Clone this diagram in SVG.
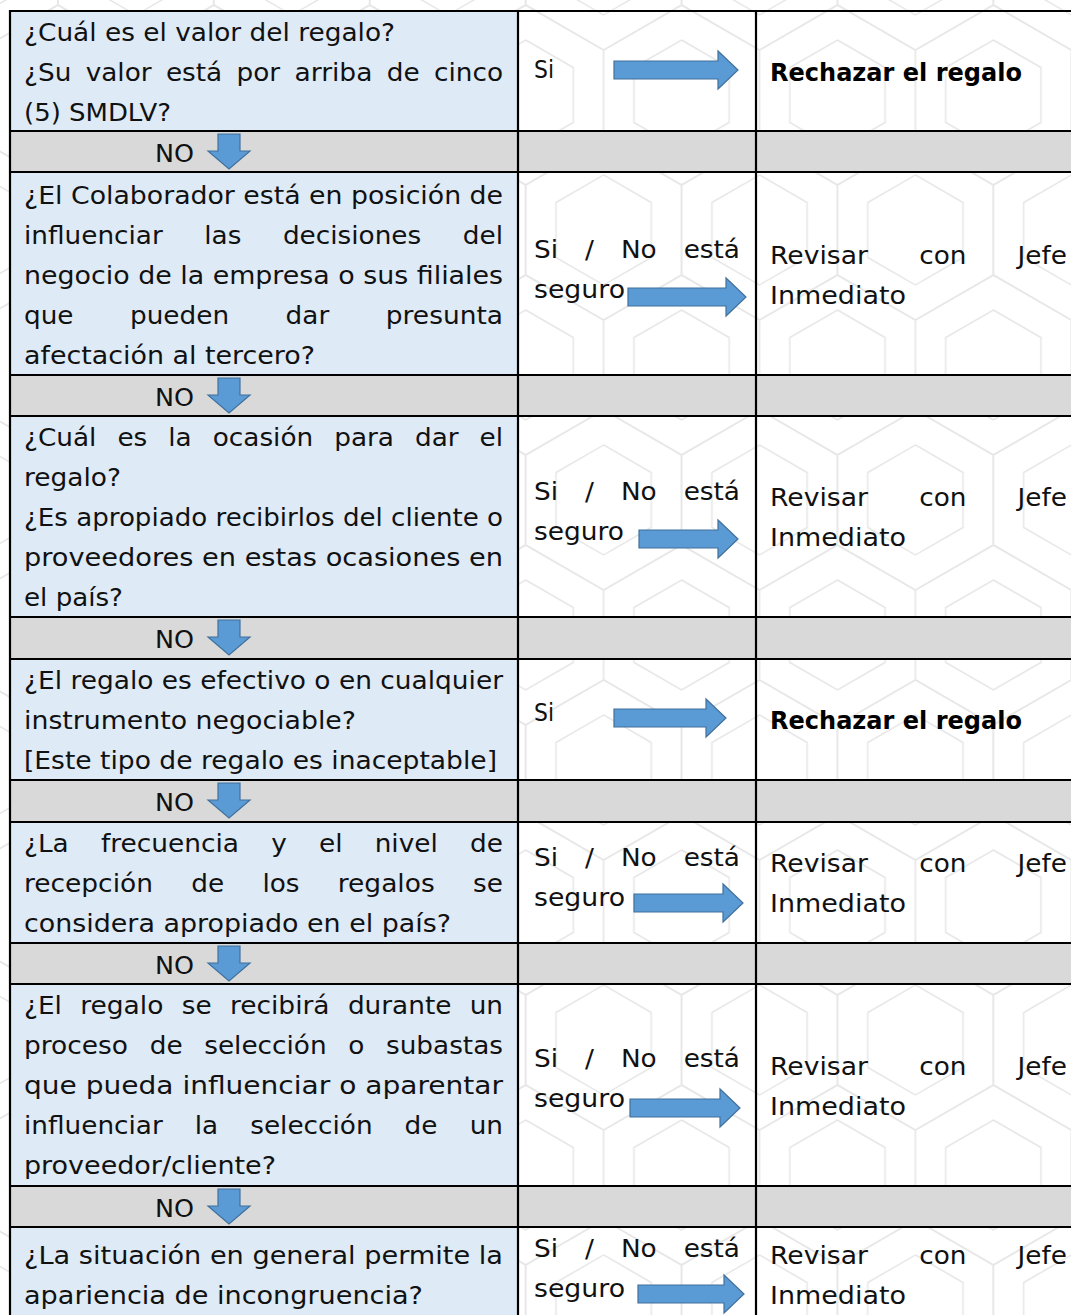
<svg xmlns="http://www.w3.org/2000/svg" width="1071" height="1315" viewBox="0 0 1071 1315">
<style>
.t{font-family:"DejaVu Sans","Open Sans",sans-serif;font-size:24px;fill:#111}
.b{font-family:"DejaVu Sans","Open Sans",sans-serif;font-size:24px;font-weight:bold;fill:#000}
.q{fill:#deeaf6}
.g{fill:#d9d9d9}
.ln{stroke:#000;stroke-width:2.2;fill:none}
.ar{fill:#5b9bd5;stroke:#41719c;stroke-width:1.2}
</style>
<defs>
<pattern id="hex" patternUnits="userSpaceOnUse" width="155.9" height="270" x="-20" y="-40">
<g fill="none" stroke="#e6e6e6" stroke-width="1.5">
<path d="M0,-90 L77.9,-45 L77.9,45 L0,90 L-77.9,45 L-77.9,-45 Z M0,-55 L47.6,-27.5 L47.6,27.5 L0,55 L-47.6,27.5 L-47.6,-27.5 Z"/>
<path transform="translate(155.9,0)" d="M0,-90 L77.9,-45 L77.9,45 L0,90 L-77.9,45 L-77.9,-45 Z M0,-55 L47.6,-27.5 L47.6,27.5 L0,55 L-47.6,27.5 L-47.6,-27.5 Z"/>
<path transform="translate(0,270)" d="M0,-90 L77.9,-45 L77.9,45 L0,90 L-77.9,45 L-77.9,-45 Z M0,-55 L47.6,-27.5 L47.6,27.5 L0,55 L-47.6,27.5 L-47.6,-27.5 Z"/>
<path transform="translate(155.9,270)" d="M0,-90 L77.9,-45 L77.9,45 L0,90 L-77.9,45 L-77.9,-45 Z M0,-55 L47.6,-27.5 L47.6,27.5 L0,55 L-47.6,27.5 L-47.6,-27.5 Z"/>
<path transform="translate(77.95,135)" d="M0,-90 L77.9,-45 L77.9,45 L0,90 L-77.9,45 L-77.9,-45 Z M0,-55 L47.6,-27.5 L47.6,27.5 L0,55 L-47.6,27.5 L-47.6,-27.5 Z"/>
</g>
</pattern>
</defs>
<rect x="0" y="0" width="1071" height="1315" fill="#fff"/>
<rect x="0" y="0" width="1071" height="1315" fill="url(#hex)"/>

<g id="fills">
<rect class="q" x="10" y="11" width="508" height="120"/>
<rect class="g" x="10" y="131" width="1061" height="41"/>
<rect class="q" x="10" y="172" width="508" height="203"/>
<rect class="g" x="10" y="375" width="1061" height="41"/>
<rect class="q" x="10" y="416" width="508" height="201"/>
<rect class="g" x="10" y="617" width="1061" height="42"/>
<rect class="q" x="10" y="659" width="508" height="121"/>
<rect class="g" x="10" y="780" width="1061" height="42"/>
<rect class="q" x="10" y="822" width="508" height="121"/>
<rect class="g" x="10" y="943" width="1061" height="41"/>
<rect class="q" x="10" y="984" width="508" height="202"/>
<rect class="g" x="10" y="1186" width="1061" height="41"/>
<rect class="q" x="10" y="1227" width="508" height="90"/>
</g>

<g id="grid" class="ln">
<path d="M10,11 H1071 M10,131 H1071 M10,172 H1071 M10,375 H1071 M10,416 H1071 M10,617 H1071 M10,659 H1071 M10,780 H1071 M10,822 H1071 M10,943 H1071 M10,984 H1071 M10,1186 H1071 M10,1227 H1071"/>
<path d="M10,10 V1315 M518,10 V1315 M756,10 V1315"/>
</g>

<g id="q1">
<text class="t" x="24" y="41" textLength="371" lengthAdjust="spacingAndGlyphs">¿Cuál es el valor del regalo?</text>
<text class="t" x="24" y="81" textLength="47.3" lengthAdjust="spacingAndGlyphs">¿Su</text>
<text class="t" x="85.7" y="81" textLength="65.9" lengthAdjust="spacingAndGlyphs">valor</text>
<text class="t" x="165.9" y="81" textLength="56.3" lengthAdjust="spacingAndGlyphs">está</text>
<text class="t" x="236.6" y="81" textLength="43.6" lengthAdjust="spacingAndGlyphs">por</text>
<text class="t" x="294.5" y="81" textLength="77.9" lengthAdjust="spacingAndGlyphs">arriba</text>
<text class="t" x="386.8" y="81" textLength="32.9" lengthAdjust="spacingAndGlyphs">de</text>
<text class="t" x="434" y="81" textLength="69" lengthAdjust="spacingAndGlyphs">cinco</text>
<text class="t" x="24" y="121" textLength="147" lengthAdjust="spacingAndGlyphs">(5) SMDLV?</text>
</g>
<g id="a1"><text class="t" x="534" y="78" textLength="20" lengthAdjust="spacingAndGlyphs">Si</text></g>
<g id="o1"><text class="b" x="770" y="81" textLength="252" lengthAdjust="spacingAndGlyphs">Rechazar el regalo</text></g>
<g id="no1"><text class="t" x="155" y="162" textLength="39" lengthAdjust="spacingAndGlyphs">NO</text></g>

<g id="q2">
<text class="t" x="24" y="204" textLength="479" lengthAdjust="spacingAndGlyphs">¿El Colaborador está en posición de</text>
<text class="t" x="24" y="244" textLength="138.8" lengthAdjust="spacingAndGlyphs">influenciar</text>
<text class="t" x="204.3" y="244" textLength="37.1" lengthAdjust="spacingAndGlyphs">las</text>
<text class="t" x="282.9" y="244" textLength="138.3" lengthAdjust="spacingAndGlyphs">decisiones</text>
<text class="t" x="462.8" y="244" textLength="40.2" lengthAdjust="spacingAndGlyphs">del</text>
<text class="t" x="24" y="284" textLength="479" lengthAdjust="spacingAndGlyphs">negocio de la empresa o sus filiales</text>
<text class="t" x="24" y="324" textLength="49.5" lengthAdjust="spacingAndGlyphs">que</text>
<text class="t" x="130" y="324" textLength="99.1" lengthAdjust="spacingAndGlyphs">pueden</text>
<text class="t" x="285.6" y="324" textLength="43.6" lengthAdjust="spacingAndGlyphs">dar</text>
<text class="t" x="385.8" y="324" textLength="117.2" lengthAdjust="spacingAndGlyphs">presunta</text>
<text class="t" x="24" y="364" textLength="291" lengthAdjust="spacingAndGlyphs">afectación al tercero?</text>
</g>
<g id="a2">
<text class="t" x="534" y="258" textLength="24" lengthAdjust="spacingAndGlyphs">Si</text>
<text class="t" x="585" y="258" textLength="8.9" lengthAdjust="spacingAndGlyphs">/</text>
<text class="t" x="620.9" y="258" textLength="35.8" lengthAdjust="spacingAndGlyphs">No</text>
<text class="t" x="683.7" y="258" textLength="56.3" lengthAdjust="spacingAndGlyphs">está</text>
<text class="t" x="534" y="298" textLength="91" lengthAdjust="spacingAndGlyphs">seguro</text>
</g>
<g id="o2">
<text class="t" x="770" y="264" textLength="98" lengthAdjust="spacingAndGlyphs">Revisar</text>
<text class="t" x="919.2" y="264" textLength="47.2" lengthAdjust="spacingAndGlyphs">con</text>
<text class="t" x="1017.6" y="264" textLength="49.4" lengthAdjust="spacingAndGlyphs">Jefe</text>
<text class="t" x="770" y="304" textLength="136" lengthAdjust="spacingAndGlyphs">Inmediato</text>
</g>
<g id="no2"><text class="t" x="155" y="406" textLength="39" lengthAdjust="spacingAndGlyphs">NO</text></g>

<g id="q3">
<text class="t" x="24" y="446" textLength="72.4" lengthAdjust="spacingAndGlyphs">¿Cuál</text>
<text class="t" x="117.4" y="446" textLength="29.9" lengthAdjust="spacingAndGlyphs">es</text>
<text class="t" x="168.3" y="446" textLength="23.4" lengthAdjust="spacingAndGlyphs">la</text>
<text class="t" x="212.7" y="446" textLength="100.5" lengthAdjust="spacingAndGlyphs">ocasión</text>
<text class="t" x="334.2" y="446" textLength="59.8" lengthAdjust="spacingAndGlyphs">para</text>
<text class="t" x="415" y="446" textLength="43.6" lengthAdjust="spacingAndGlyphs">dar</text>
<text class="t" x="479.5" y="446" textLength="23.5" lengthAdjust="spacingAndGlyphs">el</text>
<text class="t" x="24" y="486" textLength="97" lengthAdjust="spacingAndGlyphs">regalo?</text>
<text class="t" x="24" y="526" textLength="479" lengthAdjust="spacingAndGlyphs">¿Es apropiado recibirlos del cliente o</text>
<text class="t" x="24" y="566" textLength="479" lengthAdjust="spacingAndGlyphs">proveedores en estas ocasiones en</text>
<text class="t" x="24" y="606" textLength="99" lengthAdjust="spacingAndGlyphs">el país?</text>
</g>
<g id="a3">
<text class="t" x="534" y="500" textLength="24" lengthAdjust="spacingAndGlyphs">Si</text>
<text class="t" x="585" y="500" textLength="8.9" lengthAdjust="spacingAndGlyphs">/</text>
<text class="t" x="620.9" y="500" textLength="35.8" lengthAdjust="spacingAndGlyphs">No</text>
<text class="t" x="683.7" y="500" textLength="56.3" lengthAdjust="spacingAndGlyphs">está</text>
<text class="t" x="534" y="540" textLength="90" lengthAdjust="spacingAndGlyphs">seguro</text>
</g>
<g id="o3">
<text class="t" x="770" y="506" textLength="98" lengthAdjust="spacingAndGlyphs">Revisar</text>
<text class="t" x="919.2" y="506" textLength="47.2" lengthAdjust="spacingAndGlyphs">con</text>
<text class="t" x="1017.6" y="506" textLength="49.4" lengthAdjust="spacingAndGlyphs">Jefe</text>
<text class="t" x="770" y="546" textLength="136" lengthAdjust="spacingAndGlyphs">Inmediato</text>
</g>
<g id="no3"><text class="t" x="155" y="648" textLength="39" lengthAdjust="spacingAndGlyphs">NO</text></g>

<g id="q4">
<text class="t" x="24" y="689" textLength="479" lengthAdjust="spacingAndGlyphs">¿El regalo es efectivo o en cualquier</text>
<text class="t" x="24" y="729" textLength="332" lengthAdjust="spacingAndGlyphs">instrumento negociable?</text>
<text class="t" x="24" y="769" textLength="473" lengthAdjust="spacingAndGlyphs">[Este tipo de regalo es inaceptable]</text>
</g>
<g id="a4"><text class="t" x="534" y="721" textLength="20" lengthAdjust="spacingAndGlyphs">Si</text></g>
<g id="o4"><text class="b" x="770" y="729" textLength="252" lengthAdjust="spacingAndGlyphs">Rechazar el regalo</text></g>
<g id="no4"><text class="t" x="155" y="811" textLength="39" lengthAdjust="spacingAndGlyphs">NO</text></g>

<g id="q5">
<text class="t" x="24" y="852" textLength="44.7" lengthAdjust="spacingAndGlyphs">¿La</text>
<text class="t" x="100.9" y="852" textLength="138.1" lengthAdjust="spacingAndGlyphs">frecuencia</text>
<text class="t" x="271.2" y="852" textLength="15.6" lengthAdjust="spacingAndGlyphs">y</text>
<text class="t" x="319" y="852" textLength="23.5" lengthAdjust="spacingAndGlyphs">el</text>
<text class="t" x="374.7" y="852" textLength="63" lengthAdjust="spacingAndGlyphs">nivel</text>
<text class="t" x="470.1" y="852" textLength="32.9" lengthAdjust="spacingAndGlyphs">de</text>
<text class="t" x="24" y="892" textLength="128.9" lengthAdjust="spacingAndGlyphs">recepción</text>
<text class="t" x="191.2" y="892" textLength="32.9" lengthAdjust="spacingAndGlyphs">de</text>
<text class="t" x="262.4" y="892" textLength="37.1" lengthAdjust="spacingAndGlyphs">los</text>
<text class="t" x="337.8" y="892" textLength="96.9" lengthAdjust="spacingAndGlyphs">regalos</text>
<text class="t" x="473.1" y="892" textLength="29.9" lengthAdjust="spacingAndGlyphs">se</text>
<text class="t" x="24" y="932" textLength="427" lengthAdjust="spacingAndGlyphs">considera apropiado en el país?</text>
</g>
<g id="a5">
<text class="t" x="534" y="866" textLength="24" lengthAdjust="spacingAndGlyphs">Si</text>
<text class="t" x="585" y="866" textLength="8.9" lengthAdjust="spacingAndGlyphs">/</text>
<text class="t" x="620.9" y="866" textLength="35.8" lengthAdjust="spacingAndGlyphs">No</text>
<text class="t" x="683.7" y="866" textLength="56.3" lengthAdjust="spacingAndGlyphs">está</text>
<text class="t" x="534" y="906" textLength="91" lengthAdjust="spacingAndGlyphs">seguro</text>
</g>
<g id="o5">
<text class="t" x="770" y="872" textLength="98" lengthAdjust="spacingAndGlyphs">Revisar</text>
<text class="t" x="919.2" y="872" textLength="47.2" lengthAdjust="spacingAndGlyphs">con</text>
<text class="t" x="1017.6" y="872" textLength="49.4" lengthAdjust="spacingAndGlyphs">Jefe</text>
<text class="t" x="770" y="912" textLength="136" lengthAdjust="spacingAndGlyphs">Inmediato</text>
</g>
<g id="no5"><text class="t" x="155" y="974" textLength="39" lengthAdjust="spacingAndGlyphs">NO</text></g>

<g id="q6">
<text class="t" x="24" y="1014" textLength="37.9" lengthAdjust="spacingAndGlyphs">¿El</text>
<text class="t" x="80.2" y="1014" textLength="83.2" lengthAdjust="spacingAndGlyphs">regalo</text>
<text class="t" x="181.7" y="1014" textLength="29.9" lengthAdjust="spacingAndGlyphs">se</text>
<text class="t" x="229.9" y="1014" textLength="99.7" lengthAdjust="spacingAndGlyphs">recibirá</text>
<text class="t" x="347.9" y="1014" textLength="103.5" lengthAdjust="spacingAndGlyphs">durante</text>
<text class="t" x="469.7" y="1014" textLength="33.3" lengthAdjust="spacingAndGlyphs">un</text>
<text class="t" x="24" y="1054" textLength="104" lengthAdjust="spacingAndGlyphs">proceso</text>
<text class="t" x="149.7" y="1054" textLength="32.9" lengthAdjust="spacingAndGlyphs">de</text>
<text class="t" x="204.2" y="1054" textLength="122.4" lengthAdjust="spacingAndGlyphs">selección</text>
<text class="t" x="348.3" y="1054" textLength="16.1" lengthAdjust="spacingAndGlyphs">o</text>
<text class="t" x="386" y="1054" textLength="117" lengthAdjust="spacingAndGlyphs">subastas</text>
<text class="t" x="24" y="1094" textLength="479" lengthAdjust="spacingAndGlyphs">que pueda influenciar o aparentar</text>
<text class="t" x="24" y="1134" textLength="138.8" lengthAdjust="spacingAndGlyphs">influenciar</text>
<text class="t" x="194.8" y="1134" textLength="23.4" lengthAdjust="spacingAndGlyphs">la</text>
<text class="t" x="250.2" y="1134" textLength="122.4" lengthAdjust="spacingAndGlyphs">selección</text>
<text class="t" x="404.6" y="1134" textLength="32.9" lengthAdjust="spacingAndGlyphs">de</text>
<text class="t" x="469.7" y="1134" textLength="33.3" lengthAdjust="spacingAndGlyphs">un</text>
<text class="t" x="24" y="1174" textLength="252" lengthAdjust="spacingAndGlyphs">proveedor/cliente?</text>
</g>
<g id="a6">
<text class="t" x="534" y="1067" textLength="24" lengthAdjust="spacingAndGlyphs">Si</text>
<text class="t" x="585" y="1067" textLength="8.9" lengthAdjust="spacingAndGlyphs">/</text>
<text class="t" x="620.9" y="1067" textLength="35.8" lengthAdjust="spacingAndGlyphs">No</text>
<text class="t" x="683.7" y="1067" textLength="56.3" lengthAdjust="spacingAndGlyphs">está</text>
<text class="t" x="534" y="1107" textLength="91" lengthAdjust="spacingAndGlyphs">seguro</text>
</g>
<g id="o6">
<text class="t" x="770" y="1075" textLength="98" lengthAdjust="spacingAndGlyphs">Revisar</text>
<text class="t" x="919.2" y="1075" textLength="47.2" lengthAdjust="spacingAndGlyphs">con</text>
<text class="t" x="1017.6" y="1075" textLength="49.4" lengthAdjust="spacingAndGlyphs">Jefe</text>
<text class="t" x="770" y="1115" textLength="136" lengthAdjust="spacingAndGlyphs">Inmediato</text>
</g>
<g id="no6"><text class="t" x="155" y="1217" textLength="39" lengthAdjust="spacingAndGlyphs">NO</text></g>

<g id="q7">
<text class="t" x="24" y="1264" textLength="479" lengthAdjust="spacingAndGlyphs">¿La situación en general permite la</text>
<text class="t" x="24" y="1304" textLength="399" lengthAdjust="spacingAndGlyphs">apariencia de incongruencia?</text>
</g>
<g id="a7">
<text class="t" x="534" y="1257" textLength="24" lengthAdjust="spacingAndGlyphs">Si</text>
<text class="t" x="585" y="1257" textLength="8.9" lengthAdjust="spacingAndGlyphs">/</text>
<text class="t" x="620.9" y="1257" textLength="35.8" lengthAdjust="spacingAndGlyphs">No</text>
<text class="t" x="683.7" y="1257" textLength="56.3" lengthAdjust="spacingAndGlyphs">está</text>
<text class="t" x="534" y="1297" textLength="91" lengthAdjust="spacingAndGlyphs">seguro</text>
</g>
<g id="o7">
<text class="t" x="770" y="1264" textLength="98" lengthAdjust="spacingAndGlyphs">Revisar</text>
<text class="t" x="919.2" y="1264" textLength="47.2" lengthAdjust="spacingAndGlyphs">con</text>
<text class="t" x="1017.6" y="1264" textLength="49.4" lengthAdjust="spacingAndGlyphs">Jefe</text>
<text class="t" x="770" y="1304" textLength="136" lengthAdjust="spacingAndGlyphs">Inmediato</text>
</g>

<g id="connectors">
<path class="ar" d="M614,61 H718 V51 L738,70 L718,89 V79 H614 Z"/>
<path class="ar" d="M628,288 H726 V278 L746,297 L726,316 V306 H628 Z"/>
<path class="ar" d="M639,530 H718 V520 L738,539 L718,558 V548 H639 Z"/>
<path class="ar" d="M614,709 H706 V699 L726,718 L706,737 V727 H614 Z"/>
<path class="ar" d="M634,894 H723 V884 L743,903 L723,922 V912 H634 Z"/>
<path class="ar" d="M630,1099 H720 V1089 L740,1108 L720,1127 V1117 H630 Z"/>
<path class="ar" d="M638,1285 H724 V1275 L744,1294 L724,1313 V1303 H638 Z"/>
<path class="ar" d="M218,134 V151 H208 L229,169 L250,151 H240 V134 Z"/>
<path class="ar" d="M218,378 V395 H208 L229,413 L250,395 H240 V378 Z"/>
<path class="ar" d="M218,620 V637 H208 L229,655 L250,637 H240 V620 Z"/>
<path class="ar" d="M218,783 V800 H208 L229,818 L250,800 H240 V783 Z"/>
<path class="ar" d="M218,946 V963 H208 L229,981 L250,963 H240 V946 Z"/>
<path class="ar" d="M218,1189 V1206 H208 L229,1224 L250,1206 H240 V1189 Z"/>
</g>
</svg>
